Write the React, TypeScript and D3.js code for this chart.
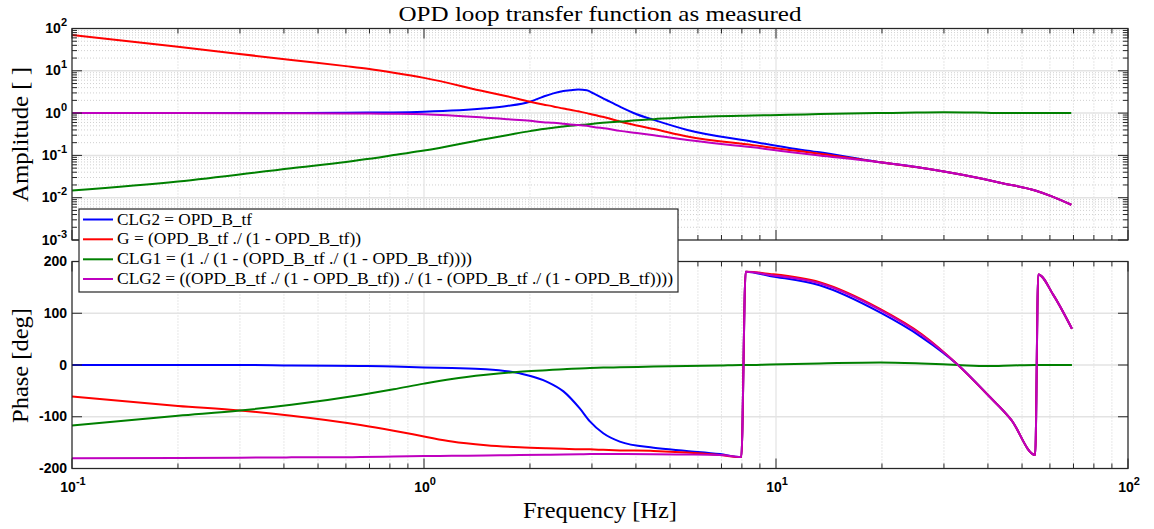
import React from "react";
import * as d3 from "d3";

const TITLE = "OPD loop transfer function as measured";
const X_LABEL = "Frequency [Hz]";
const AMP_LABEL = "Amplitude [ ]";
const PHASE_LABEL = "Phase [deg]";

const seriesNames = [
  "CLG2 = OPD_B_tf",
  "G = (OPD_B_tf ./ (1 - OPD_B_tf))",
  "CLG1 = (1 ./ (1 - (OPD_B_tf ./ (1 - OPD_B_tf))))",
  "CLG2 = ((OPD_B_tf ./ (1 - OPD_B_tf)) ./ (1 - (OPD_B_tf ./ (1 - OPD_B_tf))))",
];
const seriesColors = ["#0000ff", "#ff0000", "#008000", "#bf00bf"];

// Amplitude data
const ampFreq = [0.1, 0.2, 0.42, 0.6, 0.7, 0.82, 1.0, 1.5, 1.72, 2.0, 2.18, 2.33, 2.49, 2.6, 2.74, 2.9, 3.03, 3.3, 3.6, 4.02, 4.5, 5.6, 8.6, 10.9, 13.3, 19.3, 25, 30, 37, 44, 54.5, 61, 69];
const ampCLG2 = [1.0, 1.0, 1.01, 1.02, 1.03, 1.04, 1.08, 1.3, 1.47, 1.86, 2.44, 2.93, 3.32, 3.45, 3.6, 3.45, 2.93, 2.04, 1.42, 0.94, 0.69, 0.4, 0.21, 0.15, 0.118, 0.071, 0.053, 0.0415, 0.03, 0.022, 0.0148, 0.0106, 0.0068];
const ampG = [70, 37, 18, 12.9, 11.0, 9.0, 6.8, 3.2, 2.5, 1.86, 1.6, 1.44, 1.28, 1.2, 1.1, 1.0, 0.91, 0.78, 0.63, 0.51, 0.42, 0.28, 0.175, 0.135, 0.11, 0.071, 0.053, 0.0415, 0.03, 0.022, 0.0148, 0.0106, 0.0068];
const ampCLG1 = [0.0147, 0.024, 0.05, 0.07, 0.083, 0.102, 0.13, 0.245, 0.3, 0.375, 0.42, 0.45, 0.485, 0.5, 0.52, 0.54, 0.56, 0.6, 0.63, 0.68, 0.72, 0.8, 0.88, 0.91, 0.95, 1.0, 1.03, 1.05, 1.03, 1.0, 1.0, 1.0, 1.0];
const ampCLG2b = [1.0, 1.0, 0.99, 0.985, 0.975, 0.965, 0.94, 0.78, 0.72, 0.66, 0.61, 0.59, 0.56, 0.54, 0.525, 0.5, 0.47, 0.43, 0.38, 0.34, 0.3, 0.23, 0.155, 0.12, 0.1, 0.071, 0.053, 0.0415, 0.03, 0.022, 0.0148, 0.0106, 0.0068];

// Phase data
const phaseFreq = [0.1, 0.2, 0.3, 0.42, 0.66, 0.82, 1.0, 1.2, 1.5, 1.87, 2.23, 2.49, 2.77, 2.96, 3.23, 3.6, 4.49, 5.57, 6.93, 7.97, 8.2, 9.6, 13.3, 19.8, 25.9, 32.9, 40, 46.6, 54.5, 55.6, 61.4, 69.3];
const phCLG2 = [0, 0, 0, -1, -2, -3, -5, -6, -8, -16, -32, -51, -84, -109, -132, -148, -160, -166, -172, -178, 180, 172, 154, 101, 54, 0, -58, -106, -174, 175, 135, 70];
const phG = [-61, -79, -88, -98, -116, -127, -138, -148, -155, -159, -161, -162, -163, -163, -164, -165, -166, -169, -174, -178, 180, 176, 160, 108, 60, 0, -58, -106, -174, 175, 135, 70];
const phCLG1 = [-117, -98, -88, -77, -58, -47, -36, -27, -19, -13, -10, -8, -7, -6, -5, -4.5, -3, -2, -1, 0, 0, 1, 3, 5, 3, 0, -2, -1, 0, 0, 0, 0];
const phCLG2b = [-180, -179.5, -179, -178.5, -178, -177, -176, -175.5, -175, -174, -173.5, -173, -172.5, -172, -172, -172, -172.5, -173, -174, -178, 180, 174, 158, 106, 58, 0, -58, -106, -174, 175, 135, 70];

const ampSeries = [ampCLG2, ampG, ampCLG1, ampCLG2b];
const phaseSeries = [phCLG2, phG, phCLG1, phCLG2b];

const freqTickExps = [-1, 0, 1, 2];
const ampTickExps = [-3, -2, -1, 0, 1, 2];
const phaseTicks = [-200, -100, 0, 100, 200];

const SERIF = "'Liberation Serif', 'Times New Roman', serif";
const SANS = "'Liberation Sans', Arial, sans-serif";
const AXIS = "#262626";
const GRID_MAJOR = "#e3e3e3";
const GRID_MINOR = "#c4c4c4";

export default function App() {
  const W = 1154, H = 529;
  const L = 72, R = 1128;
  const aT = 28.5, aB = 240;
  const pT = 261.5, pB = 468.5;
  const majorLen = 10, minorLen = 5;

  const x = d3.scaleLog().domain([0.1, 100]).range([L, R]);
  const yA = d3.scaleLog().domain([1e-3, 1e2]).range([aB, aT]);
  const yP = d3.scaleLinear().domain([-200, 200]).range([pB, pT]);

  const isDecade = (v: number) => Math.abs(Math.log10(v) - Math.round(Math.log10(v))) < 1e-6;
  const xTicks = x.ticks();
  const yATicks = yA.ticks();

  const ampLine = d3
    .line<[number, number]>()
    .x((d) => x(d[0]))
    .y((d) => yA(d[1]))
    .curve(d3.curveMonotoneX);
  const phLine = d3
    .line<[number, number]>()
    .x((d) => x(d[0]))
    .y((d) => yP(d[1]))
    .curve(d3.curveMonotoneX);

  const legendRows = [219.5, 239.3, 259.3, 279];
  const legendLens = [135, 244, 355, 556];

  const xTickMarks = (top: number, bottom: number) =>
    xTicks.map((t, i) => {
      const len = isDecade(t) ? majorLen : minorLen;
      const xx = x(t);
      return (
        <g key={i}>
          <line x1={xx} x2={xx} y1={bottom} y2={bottom - len} stroke={AXIS} strokeWidth={1} />
          <line x1={xx} x2={xx} y1={top} y2={top + len} stroke={AXIS} strokeWidth={1} />
        </g>
      );
    });

  return (
    <svg width={W} height={H} style={{ position: "absolute", left: 0, top: 0, background: "#fff" }}>
      <rect x={0} y={0} width={W} height={H} fill="#fff" />
      {/* ===== Amplitude panel ===== */}
      <g>
        {xTicks.filter((t) => !isDecade(t)).map((t, i) => (
          <line key={"axm" + i} x1={x(t)} x2={x(t)} y1={aT} y2={aB} stroke={GRID_MINOR} strokeWidth={0.8} strokeDasharray="1,2" />
        ))}
        {yATicks.filter((t) => !isDecade(t)).map((t, i) => (
          <line key={"aym" + i} x1={L} x2={R} y1={yA(t)} y2={yA(t)} stroke={GRID_MINOR} strokeWidth={0.8} strokeDasharray="1,2" />
        ))}
        {xTicks.filter((t) => isDecade(t)).map((t, i) => (
          <line key={"axM" + i} x1={x(t)} x2={x(t)} y1={aT} y2={aB} stroke={GRID_MAJOR} strokeWidth={1.2} />
        ))}
        {yATicks.filter((t) => isDecade(t)).map((t, i) => (
          <line key={"ayM" + i} x1={L} x2={R} y1={yA(t)} y2={yA(t)} stroke={GRID_MAJOR} strokeWidth={1.5} />
        ))}
        {ampSeries.map((vals, s) => (
          <path
            key={"a" + s}
            d={ampLine(ampFreq.map((f, i) => [f, vals[i]] as [number, number])) || ""}
            fill="none"
            stroke={seriesColors[s]}
            strokeWidth={2}
            strokeLinejoin="round"
          />
        ))}
        {xTickMarks(aT, aB)}
        {yATicks.map((t, i) => {
          const len = isDecade(t) ? majorLen : minorLen;
          const yy = yA(t);
          return (
            <g key={"ayt" + i}>
              <line x1={L} x2={L + len} y1={yy} y2={yy} stroke={AXIS} strokeWidth={1} />
              <line x1={R} x2={R - len} y1={yy} y2={yy} stroke={AXIS} strokeWidth={1} />
            </g>
          );
        })}
        <rect x={L} y={aT} width={R - L} height={aB - aT} fill="none" stroke={AXIS} strokeWidth={1.2} />
        {ampTickExps.map((e) => (
          <text key={"al" + e} x={67} y={yA(Math.pow(10, e)) + 4.5} textAnchor="end" fontFamily={SANS} fontWeight="bold" fontSize={14} fill="#000">
            10
            <tspan dy={-7} fontSize={11}>{e}</tspan>
          </text>
        ))}
      </g>

      {/* ===== Phase panel ===== */}
      <g>
        {xTicks.filter((t) => !isDecade(t)).map((t, i) => (
          <line key={"pxm" + i} x1={x(t)} x2={x(t)} y1={pT} y2={pB} stroke={GRID_MINOR} strokeWidth={0.8} strokeDasharray="1,2" />
        ))}
        {xTicks.filter((t) => isDecade(t)).map((t, i) => (
          <line key={"pxM" + i} x1={x(t)} x2={x(t)} y1={pT} y2={pB} stroke={GRID_MAJOR} strokeWidth={1.2} />
        ))}
        {phaseTicks.map((t) => (
          <line key={"pyM" + t} x1={L} x2={R} y1={yP(t)} y2={yP(t)} stroke={GRID_MAJOR} strokeWidth={1.5} />
        ))}
        {phaseSeries.map((vals, s) => (
          <path
            key={"p" + s}
            d={phLine(phaseFreq.map((f, i) => [f, vals[i]] as [number, number])) || ""}
            fill="none"
            stroke={seriesColors[s]}
            strokeWidth={2}
            strokeLinejoin="round"
          />
        ))}
        {xTickMarks(pT, pB)}
        {phaseTicks.map((t) => (
          <g key={"pyt" + t}>
            <line x1={L} x2={L + majorLen} y1={yP(t)} y2={yP(t)} stroke={AXIS} strokeWidth={1} />
            <line x1={R} x2={R - majorLen} y1={yP(t)} y2={yP(t)} stroke={AXIS} strokeWidth={1} />
          </g>
        ))}
        <rect x={L} y={pT} width={R - L} height={pB - pT} fill="none" stroke={AXIS} strokeWidth={1.2} />
        {phaseTicks.map((t) => (
          <text key={"pl" + t} x={67} y={yP(t) + 4.5} textAnchor="end" fontFamily={SANS} fontWeight="bold" fontSize={14} fill="#000">
            {t}
          </text>
        ))}
        {freqTickExps.map((e) => (
          <text key={"xl" + e} x={x(Math.pow(10, e)) + 1} y={492} textAnchor="middle" fontFamily={SANS} fontWeight="bold" fontSize={14} fill="#000">
            10
            <tspan dy={-7} fontSize={11}>{e}</tspan>
          </text>
        ))}
      </g>

      {/* ===== Titles / labels ===== */}
      <text x={600} y={21} textAnchor="middle" fontFamily={SERIF} fontSize={22} textLength={403} lengthAdjust="spacingAndGlyphs" fill="#000">
        {TITLE}
      </text>
      <text x={600} y={518} textAnchor="middle" fontFamily={SERIF} fontSize={23} textLength={154} lengthAdjust="spacingAndGlyphs" fill="#000">
        {X_LABEL}
      </text>
      <text transform="translate(28,134.5) rotate(-90)" textAnchor="middle" fontFamily={SERIF} fontSize={24} textLength={135} lengthAdjust="spacingAndGlyphs" fill="#000">
        {AMP_LABEL}
      </text>
      <text transform="translate(28,365.5) rotate(-90)" textAnchor="middle" fontFamily={SERIF} fontSize={24} textLength={115} lengthAdjust="spacingAndGlyphs" fill="#000">
        {PHASE_LABEL}
      </text>

      {/* ===== Legend ===== */}
      <g>
        <rect x={79} y={209} width={599} height={83} fill="#fff" stroke={AXIS} strokeWidth={1.2} />
        {seriesNames.map((name, i) => (
          <g key={"lg" + i}>
            <line x1={83} x2={113} y1={legendRows[i]} y2={legendRows[i]} stroke={seriesColors[i]} strokeWidth={2} />
            <text x={117} y={legendRows[i] + 5} fontFamily={SERIF} fontSize={16} textLength={legendLens[i]} lengthAdjust="spacingAndGlyphs" fill="#000">
              {name}
            </text>
          </g>
        ))}
      </g>
    </svg>
  );
}
